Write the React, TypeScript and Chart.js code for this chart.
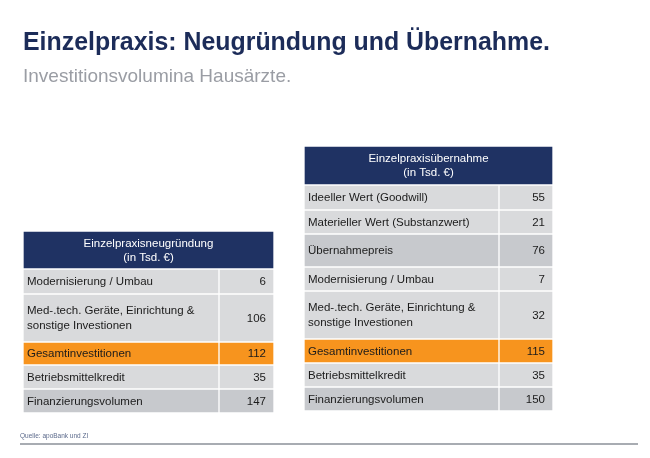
import { useEffect, useRef } from "react";
import { Chart, registerables } from "chart.js";

Chart.register(...registerables);

// ---------- data ----------
const titleText = "Einzelpraxis: Neugründung und Übernahme.";
const subtitleText = "Investitionsvolumina Hausärzte.";
const sourceText = "Quelle: apoBank und ZI";

const leftHeader = ["Einzelpraxisneugründung", "(in Tsd. €)"];
const leftLabels = [
  "Modernisierung / Umbau",
  "Med-.tech. Geräte, Einrichtung &\nsonstige Investionen",
  "Gesamtinvestitionen",
  "Betriebsmittelkredit",
  "Finanzierungsvolumen",
];
const leftValues = [6, 106, 112, 35, 147];
const leftKinds = ["plain", "plain", "total", "plain", "sum"];

const rightHeader = ["Einzelpraxisübernahme", "(in Tsd. €)"];
const rightLabels = [
  "Ideeller Wert (Goodwill)",
  "Materieller Wert (Substanzwert)",
  "Übernahmepreis",
  "Modernisierung / Umbau",
  "Med-.tech. Geräte, Einrichtung &\nsonstige Investionen",
  "Gesamtinvestitionen",
  "Betriebsmittelkredit",
  "Finanzierungsvolumen",
];
const rightValues = [55, 21, 76, 7, 32, 115, 35, 150];
const rightKinds = ["plain", "plain", "sum", "plain", "plain", "total", "plain", "sum"];

// ---------- layout & style ----------
const W = 650;
const H = 458;
const GAP = 2;
const LEFT_LAYOUT = { x0: 24, xSplit: 219, x1: 273, top: 232, headerH: 36, rowH: [23, 46, 21, 22, 22] };
const RIGHT_LAYOUT = { x0: 305, xSplit: 499, x1: 552, top: 147, headerH: 37, rowH: [23, 22, 31, 22, 46, 22, 22, 22] };

const NAVY = "#1f3263";
const ORANGE = "#f7941e";
const LIGHT = "#d9dadc";
const DARK = "#c7c9cd";
const TEXT = "#1b1b1b";
const FONT = "11.5px 'Liberation Sans', Arial, sans-serif";

const fillFor = (kind: string) => (kind === "total" ? ORANGE : kind === "sum" ? DARK : LIGHT);

function buildTable(layout: any, header: string[], labels: string[], values: number[], kinds: string[]) {
  const sets: any[] = [];
  let y = layout.top;
  sets.push({
    data: [{ x: [layout.x0, layout.x1], y: y + layout.headerH / 2 }],
    barThickness: layout.headerH,
    backgroundColor: NAVY,
    cells: [{ text: header.join("\n"), align: "center", color: "#ffffff" }],
  });
  y += layout.headerH + GAP;
  labels.forEach((lab, i) => {
    const h = layout.rowH[i];
    const c = y + h / 2;
    sets.push({
      data: [
        { x: [layout.x0, layout.xSplit - 1], y: c },
        { x: [layout.xSplit + 1, layout.x1], y: c },
      ],
      barThickness: h,
      backgroundColor: fillFor(kinds[i]),
      cells: [
        { text: lab, align: "left", color: TEXT },
        { text: String(values[i]), align: "right", color: TEXT },
      ],
    });
    y += h + GAP;
  });
  return sets;
}

const cellTextPlugin = {
  id: "cellText",
  afterDatasetsDraw(chart: any) {
    const ctx = chart.ctx;
    ctx.save();
    ctx.font = FONT;
    ctx.textBaseline = "middle";
    chart.data.datasets.forEach((ds: any, i: number) => {
      const meta = chart.getDatasetMeta(i);
      meta.data.forEach((el: any, j: number) => {
        const cell = ds.cells[j];
        if (!cell) return;
        const p = el.getProps(["x", "y", "base"], true);
        const left = Math.min(p.x, p.base);
        const right = Math.max(p.x, p.base);
        const lines = cell.text.split("\n");
        const lh = cell.align === "center" ? 14 : 15;
        const startY = p.y - ((lines.length - 1) * lh) / 2;
        ctx.fillStyle = cell.color;
        lines.forEach((ln: string, k: number) => {
          const ty = startY + k * lh + 0.5;
          if (cell.align === "left") {
            ctx.textAlign = "left";
            ctx.fillText(ln, left + 3, ty);
          } else if (cell.align === "right") {
            ctx.textAlign = "right";
            ctx.fillText(ln, right - 7, ty);
          } else {
            ctx.textAlign = "center";
            ctx.fillText(ln, (left + right) / 2, ty);
          }
        });
      });
    });
    ctx.restore();
  },
};

export default function App() {
  const ref = useRef<HTMLCanvasElement | null>(null);

  useEffect(() => {
    if (!ref.current) return;
    const datasets = [
      ...buildTable(LEFT_LAYOUT, leftHeader, leftLabels, leftValues, leftKinds),
      ...buildTable(RIGHT_LAYOUT, rightHeader, rightLabels, rightValues, rightKinds),
    ].map((d) => ({ ...d, stack: "cells", borderWidth: 0 }));

    const chart = new Chart(ref.current, {
      type: "bar",
      data: { datasets } as any,
      options: {
        indexAxis: "y",
        animation: false,
        responsive: false,
        devicePixelRatio: 1,
        events: [],
        layout: { padding: 0 },
        plugins: { legend: { display: false }, tooltip: { enabled: false }, title: { display: false } },
        scales: {
          x: { type: "linear", min: 0, max: W, display: false, stacked: false, offset: false, grace: 0 },
          y: { type: "linear", min: 0, max: H, reverse: true, display: false, offset: false, grace: 0 },
        },
      } as any,
      plugins: [cellTextPlugin],
    });
    return () => chart.destroy();
  }, []);

  return (
    <div style={{ position: "fixed", left: 0, top: 0, width: W, height: H, background: "#ffffff", fontFamily: "'Liberation Sans', Arial, sans-serif" }}>
      <canvas ref={ref} width={W} height={H} style={{ position: "absolute", left: 0, top: 0 }} />
      <div style={{ position: "absolute", left: 23, top: 29, fontSize: 24.9, lineHeight: "24.9px", fontWeight: 700, color: "#1c2c59", whiteSpace: "nowrap" }}>
        {titleText}
      </div>
      <div style={{ position: "absolute", left: 23, top: 66, fontSize: 19, lineHeight: "19px", color: "#9a9da4", whiteSpace: "nowrap" }}>
        {subtitleText}
      </div>
      <div style={{ position: "absolute", left: 20, top: 432, fontSize: 6.5, lineHeight: "7px", color: "#5d6b8c", whiteSpace: "nowrap" }}>
        {sourceText}
      </div>
      <div style={{ position: "absolute", left: 20, top: 443, width: 618, height: 2, background: "#a8acb2" }} />
    </div>
  );
}
